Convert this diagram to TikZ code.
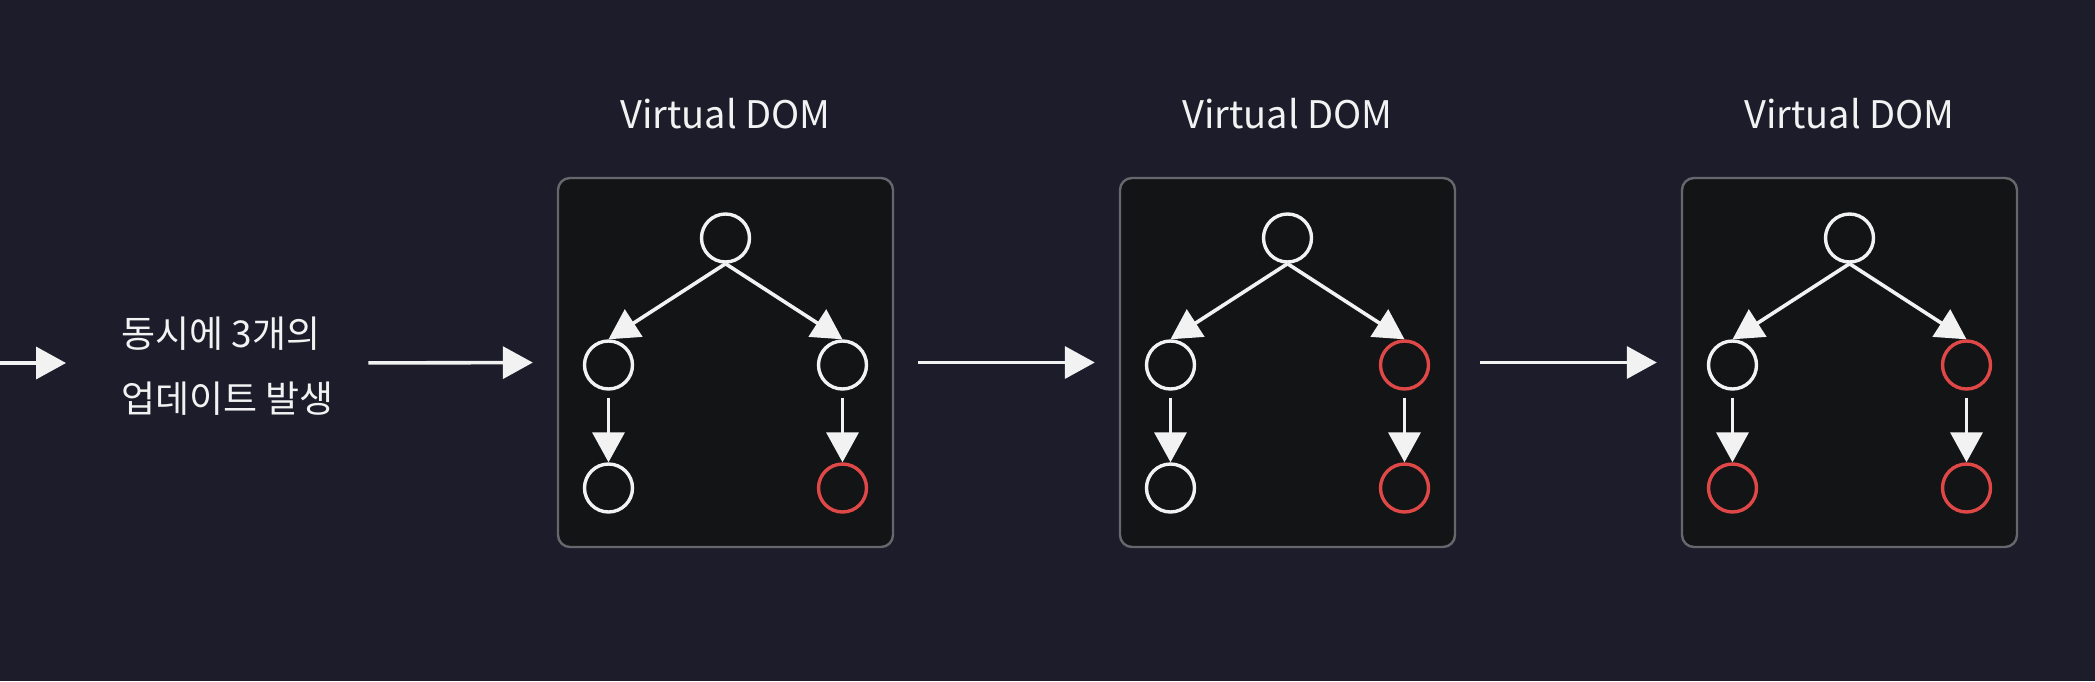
\documentclass[tikz,border=0pt]{standalone}
\usepackage{fontspec}
\setmainfont{Noto Sans CJK KR}
\usepackage{xcolor}
\usepackage{tikz}
\usetikzlibrary{arrows.meta}
\definecolor{fond}{HTML}{1C1C2B}
\definecolor{panneau}{HTML}{121416}
\definecolor{cadre}{HTML}{64676C}
\definecolor{craie}{HTML}{F2F2F2}
\definecolor{rouge}{HTML}{E04848}
\def\largeur{2095}
\def\hauteur{681}

\begin{document}
\begin{tikzpicture}[x=0.5pt, y=-0.5pt,
    panel/.style={draw=cadre, line width=1.2pt, fill=panneau, rounded corners=6pt,
        minimum width=167.5pt, minimum height=184.5pt, inner sep=0pt},
    vnode/.style={circle, draw=craie, line width=1.7pt, minimum size=24pt, inner sep=0pt},
    hot/.style={draw=rouge},
    link/.style={craie, line width=1.8pt, -{Triangle[length=15pt, width=16pt]}},
    label/.style={text=craie, inner sep=0pt, font=\fontsize{19}{22}\selectfont},
    ]
%\draw[step=100, line width=0.2pt, black!40!white] (0,0) grid (\largeur,\hauteur);
\useasboundingbox (0,0) rectangle (\largeur,\hauteur);
\fill[fond] (0,0) rectangle (\largeur,\hauteur);
    % left part
    \coordinate (src) at (-24,363);
    \node[text=craie, inner sep=0pt, anchor=west, align=left,
        font=\fontsize{18.5}{32.5}\selectfont] (txt) at (121,366) {동시에 3개의\\업데이트 발생};
    % panels
    \node[panel] (box1) at (725.5,362.5) {};
    \node[panel] (box2) at (1287.5,362.5) {};
    \node[panel] (box3) at (1849.5,362.5) {};
    \node[label, anchor=base] (title1) at (725.5,128) {Virtual DOM};
    \node[label, anchor=base] (title2) at (1287.5,128) {Virtual DOM};
    \node[label, anchor=base] (title3) at (1849.5,128) {Virtual DOM};
    % first tree
    \node[vnode] (a1) at (725.5,238) {};
    \node[vnode] (b1) at (608.5,365) {};
    \node[vnode] (c1) at (842.5,365) {};
    \node[vnode] (d1) at (608.5,488) {};
    \node[vnode, hot] (e1) at (842.5,488) {};
    % second tree
    \node[vnode] (a2) at (1287.5,238) {};
    \node[vnode] (b2) at (1170.5,365) {};
    \node[vnode, hot] (c2) at (1404.5,365) {};
    \node[vnode] (d2) at (1170.5,488) {};
    \node[vnode, hot] (e2) at (1404.5,488) {};
    % third tree
    \node[vnode] (a3) at (1849.5,238) {};
    \node[vnode] (b3) at (1732.5,365) {};
    \node[vnode, hot] (c3) at (1966.5,365) {};
    \node[vnode, hot] (d3) at (1732.5,488) {};
    \node[vnode, hot] (e3) at (1966.5,488) {};
    % edges
    \draw[link] (a1.south) -- (b1.north);
    \draw[link] (a1.south) -- (c1.north);
    \draw[link, shorten <=3.5pt] (b1) -- (d1);
    \draw[link, shorten <=3.5pt] (c1) -- (e1);
    \draw[link] (a2.south) -- (b2.north);
    \draw[link] (a2.south) -- (c2.north);
    \draw[link, shorten <=3.5pt] (b2) -- (d2);
    \draw[link, shorten <=3.5pt] (c2) -- (e2);
    \draw[link] (a3.south) -- (b3.north);
    \draw[link] (a3.south) -- (c3.north);
    \draw[link, shorten <=3.5pt] (b3) -- (d3);
    \draw[link, shorten <=3.5pt] (c3) -- (e3);
    % flow
    \draw[link, shorten >=27.5pt] (src) -- (src -| txt.west);
    \draw[link, shorten <=17pt, shorten >=12pt] (txt.east |- src) -- (box1.west);
    \draw[link, shorten <=12pt, shorten >=12pt] (box1.east) -- (box2.west);
    \draw[link, shorten <=12pt, shorten >=12pt] (box2.east) -- (box3.west);
\end{tikzpicture}
\end{document}
